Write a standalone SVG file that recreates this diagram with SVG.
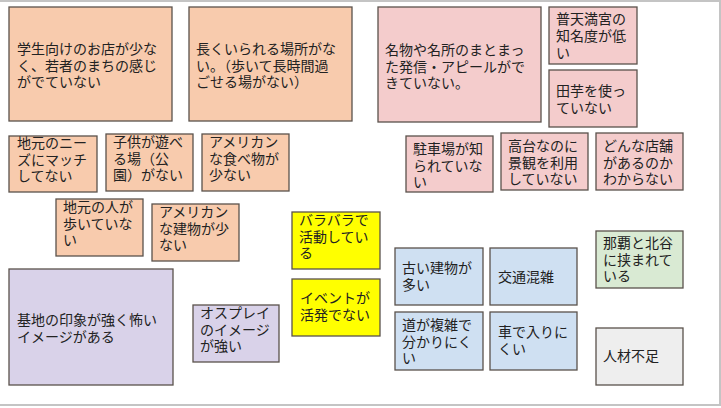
<svg xmlns="http://www.w3.org/2000/svg" width="721" height="408" viewBox="0 0 721 408">
<style>
rect.n{stroke:#5a524c;stroke-width:1.3}
.o{fill:#f8cbad}.p{fill:#f4cccc}.v{fill:#d9d2e9}.b{fill:#cfe0f2}.g{fill:#d9ead3}.y{fill:#ffff00}.e{fill:#eeeeee}
text{font-family:"Noto Sans CJK JP","Noto Sans CJK SC",sans-serif;font-size:14px;fill:#222}
.frame{stroke:#c4c4c4;stroke-width:2;fill:none}
</style>
<g id="frame"><path class="frame" d="M0 1H720V405H0"/></g>
<g id="connectors"></g>
<g id="n1"><rect class="n o" x="9" y="7" width="163" height="114"/><text x="17"><tspan x="17" y="54">学生向けのお店が少な</tspan><tspan x="17" y="70.5">く、若者のまちの感じ</tspan><tspan x="17" y="87">がでていない</tspan></text></g>
<g id="n2"><rect class="n o" x="189" y="7" width="163" height="114"/><text><tspan x="196" y="54">長くいられる場所がな</tspan><tspan x="196" y="70.5">い。（歩いて長時間過</tspan><tspan x="196" y="87">ごせる場がない）</tspan></text></g>
<g id="n3"><rect class="n p" x="378" y="7" width="163" height="115"/><text><tspan x="385" y="55">名物や名所のまとまっ</tspan><tspan x="385" y="71.5">た発信・アピールがで</tspan><tspan x="385" y="88">きていない。</tspan></text></g>
<g id="n4"><rect class="n p" x="549" y="7" width="88" height="57"/><text><tspan x="556" y="24">普天満宮の</tspan><tspan x="556" y="41">知名度が低</tspan><tspan x="556" y="58">い</tspan></text></g>
<g id="n5"><rect class="n p" x="549" y="70" width="88" height="57"/><text><tspan x="556" y="96">田芋を使っ</tspan><tspan x="556" y="112.5">ていない</tspan></text></g>
<g id="n6"><rect class="n o" x="9" y="136" width="88" height="56"/><text><tspan x="17" y="148">地元のニー</tspan><tspan x="17" y="164.5">ズにマッチ</tspan><tspan x="17" y="181">してない</tspan></text></g>
<g id="n7"><rect class="n o" x="106" y="134" width="87" height="57"/><text><tspan x="113" y="147">子供が遊べ</tspan><tspan x="113" y="163.5">る場（公</tspan><tspan x="113" y="180">園）がない</tspan></text></g>
<g id="n8"><rect class="n o" x="202" y="134" width="87" height="57"/><text><tspan x="209" y="147">アメリカン</tspan><tspan x="209" y="163.5">な食べ物が</tspan><tspan x="209" y="180">少ない</tspan></text></g>
<g id="n9"><rect class="n o" x="56" y="199" width="87" height="57"/><text><tspan x="63" y="212">地元の人が</tspan><tspan x="63" y="228.5">歩いていな</tspan><tspan x="63" y="245">い</tspan></text></g>
<g id="n10"><rect class="n o" x="152" y="204" width="87" height="57"/><text><tspan x="159" y="217">アメリカン</tspan><tspan x="159" y="233.5">な建物が少</tspan><tspan x="159" y="250">ない</tspan></text></g>
<g id="n11"><rect class="n y" x="292" y="212" width="88" height="57"/><text><tspan x="299" y="225">バラバラで</tspan><tspan x="299" y="241.5">活動してい</tspan><tspan x="299" y="258">る</tspan></text></g>
<g id="n12"><rect class="n y" x="292" y="279" width="88" height="57"/><text><tspan x="300" y="303">イベントが</tspan><tspan x="300" y="319.5">活発でない</tspan></text></g>
<g id="n13"><rect class="n p" x="406" y="136" width="87" height="56"/><text><tspan x="413" y="154">駐車場が知</tspan><tspan x="413" y="170.5">られていな</tspan><tspan x="413" y="187">い</tspan></text></g>
<g id="n14"><rect class="n p" x="501" y="133" width="87" height="57"/><text><tspan x="508" y="151">高台なのに</tspan><tspan x="508" y="167.5">景観を利用</tspan><tspan x="508" y="184">していない</tspan></text></g>
<g id="n15"><rect class="n p" x="596" y="133" width="87" height="57"/><text><tspan x="603" y="151">どんな店舗</tspan><tspan x="603" y="167.5">があるのか</tspan><tspan x="603" y="184">わからない</tspan></text></g>
<g id="n16"><rect class="n g" x="596" y="231" width="87" height="57"/><text><tspan x="603" y="248">那覇と北谷</tspan><tspan x="603" y="264.5">に挟まれて</tspan><tspan x="603" y="281">いる</tspan></text></g>
<g id="n17"><rect class="n v" x="9" y="269" width="164" height="116"/><text><tspan x="17" y="325">基地の印象が強く怖い</tspan><tspan x="17" y="341.5">イメージがある</tspan></text></g>
<g id="n18"><rect class="n v" x="193" y="305" width="86" height="57"/><text><tspan x="200" y="318">オスプレイ</tspan><tspan x="200" y="334.5">のイメージ</tspan><tspan x="200" y="351">が強い</tspan></text></g>
<g id="n19"><rect class="n b" x="395" y="248" width="88" height="57"/><text><tspan x="402" y="273">古い建物が</tspan><tspan x="402" y="289.5">多い</tspan></text></g>
<g id="n20"><rect class="n b" x="490" y="248" width="87" height="57"/><text><tspan x="498" y="282">交通混雑</tspan></text></g>
<g id="n21"><rect class="n b" x="395" y="312" width="88" height="58"/><text><tspan x="402" y="330">道が複雑で</tspan><tspan x="402" y="346.5">分かりにく</tspan><tspan x="402" y="363">い</tspan></text></g>
<g id="n22"><rect class="n b" x="490" y="312" width="87" height="58"/><text><tspan x="498" y="337">車で入りに</tspan><tspan x="498" y="353.5">くい</tspan></text></g>
<g id="n23"><rect class="n e" x="596" y="328" width="87" height="57"/><text><tspan x="603" y="361">人材不足</tspan></text></g>
</svg>
